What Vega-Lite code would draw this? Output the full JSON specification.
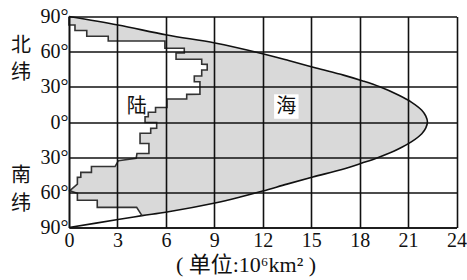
{
  "$schema": "https://vega.github.io/schema/vega-lite/v6.json",
  "width": 387.5,
  "height": 211,
  "autosize": "none",
  "padding": {"left": 69, "top": 16.5, "right": 10.5, "bottom": 52.5},
  "background": "white",
  "config": {"view": {"stroke": null}},
  "datasets": {
    "curve": [
      {"i": 0, "lat": 90, "x": 0},
      {"i": 1, "lat": 82.8, "x": 3.03},
      {"i": 2, "lat": 74.2, "x": 6.07},
      {"i": 3, "lat": 67.4, "x": 9.04},
      {"i": 4, "lat": 58.9, "x": 11.8},
      {"i": 5, "lat": 52.5, "x": 13.6},
      {"i": 6, "lat": 46.1, "x": 15.3},
      {"i": 7, "lat": 40, "x": 17.0},
      {"i": 8, "lat": 35, "x": 18.2},
      {"i": 9, "lat": 30, "x": 19.25},
      {"i": 10, "lat": 23, "x": 20.4},
      {"i": 11, "lat": 17, "x": 21.2},
      {"i": 12, "lat": 10, "x": 21.85},
      {"i": 13, "lat": 5, "x": 22.1},
      {"i": 14, "lat": 0, "x": 22.2},
      {"i": 15, "lat": -5, "x": 22.1},
      {"i": 16, "lat": -10, "x": 21.85},
      {"i": 17, "lat": -17, "x": 21.2},
      {"i": 18, "lat": -23, "x": 20.4},
      {"i": 19, "lat": -30, "x": 19.2},
      {"i": 20, "lat": -35, "x": 18.15},
      {"i": 21, "lat": -40.5, "x": 16.9},
      {"i": 22, "lat": -46.9, "x": 15.1},
      {"i": 23, "lat": -53, "x": 13.5},
      {"i": 24, "lat": -58.9, "x": 12.0},
      {"i": 25, "lat": -64, "x": 10.6},
      {"i": 26, "lat": -69.1, "x": 9.04},
      {"i": 27, "lat": -76.8, "x": 6.07},
      {"i": 28, "lat": -79.9, "x": 4.52},
      {"i": 29, "lat": -83.2, "x": 3.03},
      {"i": 30, "lat": -90, "x": 0}
    ],
    "land": [
      {"i": 0, "lat": -90, "x": 0},
      {"i": 1, "lat": -83.2, "x": 3.03},
      {"i": 2, "lat": -79.9, "x": 4.52},
      {"i": 3, "lat": -72.8, "x": 4.19},
      {"i": 4, "lat": -72.79, "x": 1.75},
      {"i": 5, "lat": -66.8, "x": 1.75},
      {"i": 6, "lat": -66.79, "x": 0.52},
      {"i": 7, "lat": -60.8, "x": 0.52},
      {"i": 8, "lat": -58.6, "x": 0.05},
      {"i": 9, "lat": -53.0, "x": 0.52},
      {"i": 10, "lat": -47.2, "x": 0.52},
      {"i": 11, "lat": -47.19, "x": 0.73},
      {"i": 12, "lat": -43.0, "x": 0.73},
      {"i": 13, "lat": -42.99, "x": 1.39},
      {"i": 14, "lat": -38.0, "x": 1.39},
      {"i": 15, "lat": -37.99, "x": 2.85},
      {"i": 16, "lat": -33.0, "x": 3.06},
      {"i": 17, "lat": -31.0, "x": 4.16},
      {"i": 18, "lat": -26.9, "x": 4.21},
      {"i": 19, "lat": -26.89, "x": 4.95},
      {"i": 20, "lat": -18.3, "x": 4.95},
      {"i": 21, "lat": -18.29, "x": 4.4},
      {"i": 22, "lat": -9.6, "x": 4.4},
      {"i": 23, "lat": -9.59, "x": 5.06},
      {"i": 24, "lat": -5.4, "x": 5.06},
      {"i": 25, "lat": -5.39, "x": 5.43},
      {"i": 26, "lat": -0.4, "x": 5.43},
      {"i": 27, "lat": -0.39, "x": 4.71},
      {"i": 28, "lat": 4.5, "x": 4.71},
      {"i": 29, "lat": 4.51, "x": 4.91},
      {"i": 30, "lat": 8.3, "x": 4.91},
      {"i": 31, "lat": 8.31, "x": 5.36},
      {"i": 32, "lat": 12.4, "x": 5.36},
      {"i": 33, "lat": 12.41, "x": 6.07},
      {"i": 34, "lat": 19.6, "x": 6.07},
      {"i": 35, "lat": 19.61, "x": 7.29},
      {"i": 36, "lat": 23.6, "x": 7.29},
      {"i": 37, "lat": 23.61, "x": 8.11},
      {"i": 38, "lat": 34.4, "x": 8.11},
      {"i": 39, "lat": 34.41, "x": 7.76},
      {"i": 40, "lat": 39.2, "x": 7.76},
      {"i": 41, "lat": 39.21, "x": 8.22},
      {"i": 42, "lat": 44.4, "x": 8.22},
      {"i": 43, "lat": 44.41, "x": 8.56},
      {"i": 44, "lat": 49.2, "x": 8.56},
      {"i": 45, "lat": 49.21, "x": 8.22},
      {"i": 46, "lat": 53.5, "x": 8.22},
      {"i": 47, "lat": 53.51, "x": 6.63},
      {"i": 48, "lat": 58.9, "x": 6.63},
      {"i": 49, "lat": 58.91, "x": 7.14},
      {"i": 50, "lat": 62.9, "x": 7.14},
      {"i": 51, "lat": 62.91, "x": 5.94},
      {"i": 52, "lat": 69.1, "x": 5.94},
      {"i": 53, "lat": 69.11, "x": 2.43},
      {"i": 54, "lat": 73.1, "x": 2.43},
      {"i": 55, "lat": 73.11, "x": 1.1},
      {"i": 56, "lat": 78.1, "x": 1.1},
      {"i": 57, "lat": 78.11, "x": 0.37},
      {"i": 58, "lat": 82.8, "x": 0.37},
      {"i": 59, "lat": 82.81, "x": 0},
      {"i": 60, "lat": 90, "x": 0}
    ],
    "labels": [
      {"t": "陆", "x": 4.2, "lat": 12.8},
      {"t": "海", "x": 13.46, "lat": 13.2},
      {"t": "北", "x": -2.97, "lat": 64.8},
      {"t": "纬", "x": -2.97, "lat": 41.8},
      {"t": "南", "x": -2.97, "lat": -46.1},
      {"t": "纬", "x": -2.97, "lat": -70.0}
    ],
    "box": [
      {"x": 13.46, "lat": 13.2}
    ]
  },
  "encoding": {
    "x": {
      "field": "x",
      "type": "quantitative",
      "stack": null,
      "scale": {"domain": [0, 24], "nice": false},
      "axis": {
        "values": [0, 3, 6, 9, 12, 15, 18, 21, 24],
        "grid": true,
        "gridColor": "#111",
        "gridWidth": 1.6,
        "gridOpacity": 1,
        "domainColor": "#111",
        "domainWidth": 1.6,
        "ticks": false,
        "labelFont": "Liberation Serif",
        "labelFontSize": 20,
        "labelColor": "#111",
        "labelPadding": 3,
        "labelFlush": false,
        "labelOverlap": false,
        "labelBaseline": "top",
        "title": "( 单位:10⁶km² )",
        "titleFont": "Liberation Serif, DejaVu Serif, Noto Sans CJK SC",
        "titleFontWeight": "normal",
        "titleFontSize": 22,
        "titleColor": "#111",
        "titleX": 176.5,
        "titleY": 37,
        "titleAlign": "center",
        "titleBaseline": "middle",
        "zindex": 1
      }
    },
    "y": {
      "field": "lat",
      "type": "quantitative",
      "scale": {"domain": [-90, 90], "nice": false},
      "axis": {
        "values": [-90, -60, -30, 0, 30, 60, 90],
        "labelExpr": "abs(datum.value) + '°'",
        "grid": true,
        "gridColor": "#111",
        "gridWidth": 1.6,
        "gridOpacity": 1,
        "domainColor": "#111",
        "domainWidth": 1.6,
        "ticks": false,
        "labelFont": "Liberation Serif",
        "labelFontSize": 20,
        "labelColor": "#111",
        "labelPadding": 1,
        "labelFlush": false,
        "labelOverlap": false,
        "title": null,
        "zindex": 1
      }
    }
  },
  "layer": [
    {
      "data": {"name": "curve"},
      "mark": {"type": "area", "orient": "horizontal", "color": "#d9d9d9", "opacity": 1, "interpolate": "catmull-rom"}
    },
    {
      "data": {"name": "land"},
      "mark": {"type": "area", "orient": "horizontal", "color": "white", "opacity": 1, "interpolate": "linear"}
    },
    {
      "data": {"name": "curve"},
      "mark": {"type": "line", "color": "#111", "strokeWidth": 1.6, "interpolate": "catmull-rom"},
      "encoding": {"order": {"field": "i", "type": "quantitative"}}
    },
    {
      "data": {"name": "land"},
      "transform": [{"filter": "datum.i >= 2"}],
      "mark": {"type": "line", "color": "#333", "strokeWidth": 1.6, "interpolate": "linear"},
      "encoding": {"order": {"field": "i", "type": "quantitative"}}
    },
    {
      "data": {"name": "box"},
      "mark": {"type": "point", "shape": "square", "filled": true, "color": "white", "opacity": 1, "size": 600, "strokeWidth": 0}
    },
    {
      "data": {"name": "labels"},
      "mark": {"type": "text", "font": "Noto Sans CJK SC", "fontSize": 20, "color": "#111", "align": "center", "baseline": "middle"},
      "encoding": {"text": {"field": "t"}}
    }
  ]
}
